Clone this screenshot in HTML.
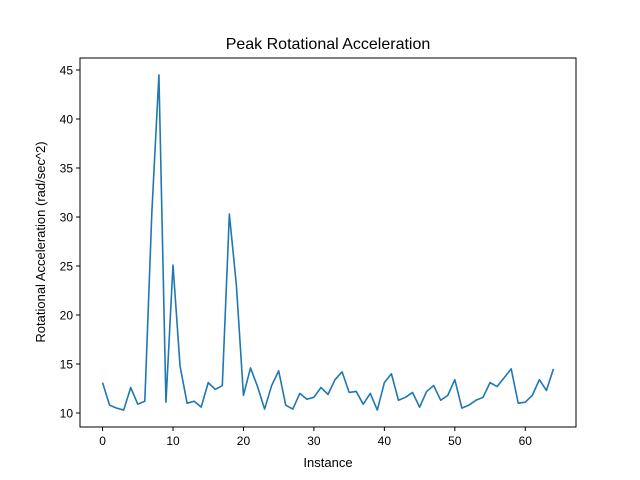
<!DOCTYPE html>
<html><head><meta charset="utf-8"><style>
body{margin:0;background:#fff;}
svg{display:block;font-family:"Liberation Sans","DejaVu Sans",sans-serif;}
</style></head><body>
<svg id="chart" width="640" height="480" viewBox="0 0 640 480">
<rect width="640" height="480" fill="#fff"/>
<text x="328" y="49" text-anchor="middle" font-size="16">Peak Rotational Acceleration</text>
<g id="plot"></g>
<rect x="80" y="58" width="496" height="369" fill="none" stroke="#000" stroke-width="1"/>
<text x="328" y="467" text-anchor="middle" font-size="13">Instance</text>
<text transform="translate(45,242) rotate(-90)" text-anchor="middle" font-size="13">Rotational Acceleration (rad/sec^2)</text>
</svg>
<script>
const values=[13.1,10.8,10.5,10.3,12.6,10.9,11.2,30.5,44.5,11.1,25.1,14.8,11.0,11.2,10.6,13.1,12.4,12.8,30.3,23.0,11.8,14.6,12.7,10.4,12.8,14.3,10.8,10.4,12.0,11.4,11.6,12.6,11.9,13.4,14.2,12.1,12.2,10.9,12.0,10.3,13.1,14.0,11.3,11.6,12.1,10.6,12.2,12.8,11.3,11.8,13.4,10.5,10.8,11.3,11.6,13.1,12.7,13.6,14.5,11.0,11.1,11.8,13.4,12.3,14.5];
const xTicks=[0,10,20,30,40,50,60];
const yTicks=[10,15,20,25,30,35,40,45];
const NS="http://www.w3.org/2000/svg";
const g=document.getElementById('plot');
const xMin=-3.2,xMax=67.2;
function xs(v){return 80+(v-xMin)*496/(xMax-xMin);}
function ys(v){return 413-(v-10)*(413-70)/35;}
function mk(t,a){const e=document.createElementNS(NS,t);for(const k in a)e.setAttribute(k,a[k]);g.appendChild(e);return e;}
xTicks.forEach(t=>{
  const l=mk('line',{x1:xs(t),x2:xs(t),y1:427,y2:431,stroke:'#000'});
  
  
  const tx=mk('text',{x:xs(t),y:445,'text-anchor':'middle','font-size':'12'});
  tx.textContent=t;
  
  
});
yTicks.forEach(t=>{
  const l=mk('line',{x1:76,x2:80,y1:ys(t),y2:ys(t),stroke:'#000'});
  
  
  const tx=mk('text',{x:73,y:ys(t)+4.5,'text-anchor':'end','font-size':'12'});
  tx.textContent=t;
  
  
});
const p=mk('polyline',{points:values.map((v,i)=>xs(i)+','+ys(v)).join(' '),fill:'none',stroke:'#1f77b4','stroke-width':'1.6','stroke-linejoin':'round'});


</script>
</body></html>
